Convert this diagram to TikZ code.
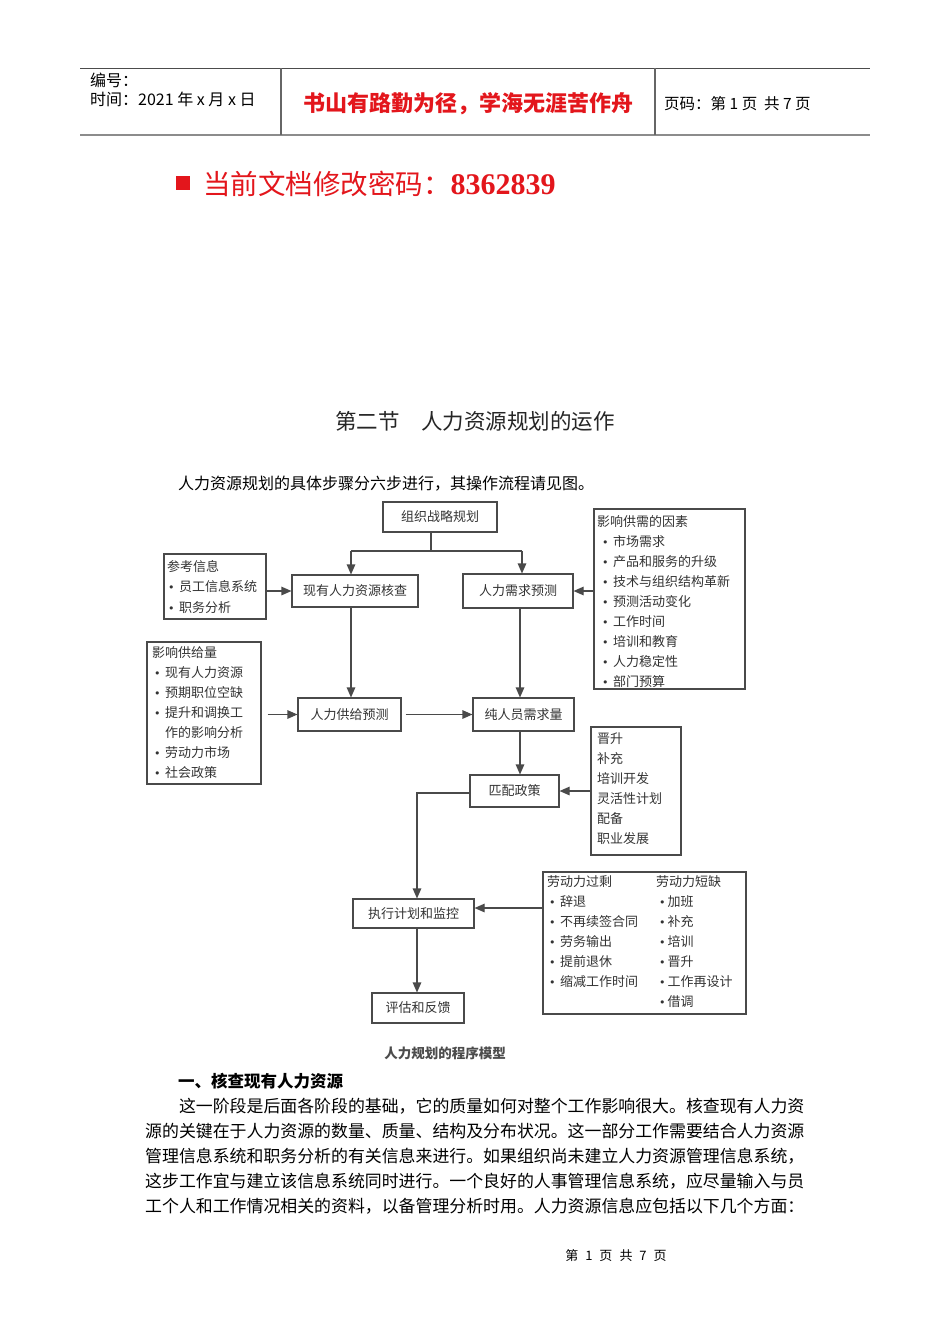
\documentclass[tikz,border=0pt]{standalone}
\usepackage{fontspec}
\setmainfont{Noto Sans CJK SC}
\newfontfamily\tnr{Liberation Serif}
\newfontfamily\dv{DejaVu Sans}
\usetikzlibrary{arrows.meta}
\definecolor{lnc}{HTML}{4A4A4A}
\definecolor{txc}{HTML}{333333}
\definecolor{hdred}{HTML}{E3161C}
\newcommand\fs[1]{\fontsize{#1}{#1}\selectfont}
\newcommand\bul{{\dv\fs{11}•}\hspace{4.5pt}}
\begin{document}
\begin{tikzpicture}[x=1pt,y=-1pt,
  mbox/.style={draw=lnc, line width=1.1pt, inner sep=0pt, text=txc, font=\fs{13}},
  lst/.style={inner sep=0pt, anchor=base west, text=txc, font=\fs{13}},
  arr/.style={draw=lnc, line width=1.1pt, -{Triangle[length=10pt,width=8.5pt]}},
  ln/.style={draw=lnc, line width=1.1pt},
  txt/.style={inner sep=0pt, anchor=base west, font=\fs{16}}]
\fill[white] (0,0) rectangle (950,1344);
\useasboundingbox (0,0) rectangle (950,1344);
% header
\draw[line width=1pt, black!70] (80,68) -- (870,68);
\draw[line width=2pt, black!45] (80,135) -- (870,135);
\draw[line width=1.3pt, black!60] (281,68) -- (281,135);
\draw[line width=1.3pt, black!60] (655,68) -- (655,135);
\node[txt] (bh) at (90,86) {编号：};
\node[txt] (sj) at (90,105) {时间：2021 年 x 月 x 日};
\node[inner sep=0pt, text=hdred, font=\fs{22}\bfseries] (motto) at (468,104) {书山有路勤为径，学海无涯苦作舟};
\node[txt, font=\fs{15.5}] (ym) at (664,109) {页码：第 1 页\ \ 共 7 页};
% password
\node[fill=hdred, minimum size=14pt, inner sep=0pt] (sq) at (183,183) {};
\node[inner sep=0pt, anchor=base west, text=hdred, font=\fs{27.5}] (pw) at (203,194) {当前文档修改密码：{\tnr\bfseries\fs{30}8362839}};
% title
\node[inner sep=0pt, font=\fs{21.5}, text=black!85] (ttl) at (475,421) {第二节　人力资源规划的运作};
\node[txt] (intro) at (178,489) {人力资源规划的具体步骤分六步进行，其操作流程请见图。};
% diagram boxes
\node[mbox, minimum width=114pt, minimum height=30pt] (zz) at (440,517) {组织战略规划};
\node[mbox, minimum width=126pt, minimum height=32pt] (hc) at (355,591) {现有人力资源核查};
\node[mbox, minimum width=102pt, minimum height=65pt] (ck) at (215,586.5) {};
\node[mbox, minimum width=110pt, minimum height=34pt] (xq) at (518,591) {人力需求预测};
\node[mbox, minimum width=151pt, minimum height=180pt] (fx) at (669.5,599) {};
\node[mbox, minimum width=114pt, minimum height=142pt] (gl) at (204,713) {};
\node[mbox, minimum width=103pt, minimum height=33pt] (gy) at (349.5,714.5) {人力供给预测};
\node[mbox, minimum width=101pt, minimum height=33pt] (cr) at (523.5,714.5) {纯人员需求量};
\node[mbox, minimum width=89pt, minimum height=32pt] (pp) at (514.5,791) {匹配政策};
\node[mbox, minimum width=90pt, minimum height=128pt] (js) at (636,791) {};
\node[mbox, minimum width=121pt, minimum height=29pt] (zx) at (413.5,913.5) {执行计划和监控};
\node[mbox, minimum width=203pt, minimum height=142pt] (ld) at (644.5,943) {};
\node[mbox, minimum width=92pt, minimum height=30pt] (pg) at (418,1008) {评估和反馈};
% list texts
\node[lst] (ck0) at (167,571) {参考信息};
\node[lst] (ck1) at (168,591) {\bul 员工信息系统};
\node[lst] (ck2) at (168,612) {\bul 职务分析};
\node[lst] (fx0) at (597,526) {影响供需的因素};
\foreach \t [count=\i] in {市场需求,产品和服务的升级,技术与组织结构革新,预测活动变化,工作时间,培训和教育,人力稳定性,部门预算}
  \node[lst] (fx\i) at (602,526+20.1*\i) {\bul\t};
\node[lst] (gl0) at (152,657) {影响供给量};
\node[lst] (gl1) at (154,677) {\bul 现有人力资源};
\node[lst] (gl2) at (154,697) {\bul 预期职位空缺};
\node[lst] (gl3) at (154,717) {\bul 提升和调换工};
\node[lst] (gl4) at (165,737) {作的影响分析};
\node[lst] (gl5) at (154,757) {\bul 劳动力市场};
\node[lst] (gl6) at (154,777) {\bul 社会政策};
\foreach \t [count=\i] in {晋升,补充,培训开发,灵活性计划,配备,职业发展}
  \node[lst] (js\i) at (597,723+20*\i) {\t};
\node[lst] (ldA) at (547,886) {劳动力过剩};
\foreach \t [count=\i] in {辞退,不再续签合同,劳务输出,提前退休,缩减工作时间}
  \node[lst] (la\i) at (549,886+20*\i) {\bul\t};
\node[lst] (ldB) at (656,886) {劳动力短缺};
\foreach \t [count=\i] in {加班,补充,培训,晋升,工作再设计,借调}
  \node[lst] (lb\i) at (659,886+20*\i) {{\dv\fs{11}•}\hspace{2pt}\t};
% connectors
\coordinate (j) at (431,551);
\coordinate (bl) at (351,551);
\coordinate (br) at (522,551);
\coordinate (cx) at (520,0);
\coordinate (cd) at (417,793);
\draw[ln] (j |- zz.south) -- (j);
\draw[ln] (bl) -- (br);
\draw[arr] (bl) -- (bl |- hc.north);
\draw[arr] (br) -- (br |- xq.north);
\draw[arr] (ck.east |- hc.west) -- (hc.west);
\draw[arr] (fx.west |- xq.east) -- (xq.east);
\draw[arr] (bl |- hc.south) -- (bl |- gy.north);
\draw[arr] (cx |- xq.south) -- (cx |- cr.north);
\draw[arr] ([xshift=6pt]gl.east |- gy.west) -- (gy.west);
\draw[arr] ([xshift=4pt]gy.east) -- (cr.west);
\draw[arr] (cx |- cr.south) -- (cx |- pp.north);
\draw[arr] (js.west |- pp.east) -- (pp.east);
\draw[arr] (pp.west |- cd) -- (cd) -- (cd |- zx.north);
\draw[arr] (ld.west |- 0,908) -- (zx.east |- 0,908);
\draw[arr] (cd |- zx.south) -- (cd |- pg.north);
% caption and text
\node[inner sep=0pt, font=\fs{13.5}\bfseries, text=black!70] (cap) at (445,1053) {人力规划的程序模型};
\node[txt, font=\fs{16.5}\bfseries] (h1) at (178,1087) {一、核查现有人力资源};
\node[txt, font=\fs{16.9}] (p1) at (178.8,1112.4) {这一阶段是后面各阶段的基础，它的质量如何对整个工作影响很大。核查现有人力资};
\node[txt, font=\fs{16.9}] (p2) at (145,1137.4) {源的关键在于人力资源的数量、质量、结构及分布状况。这一部分工作需要结合人力资源};
\node[txt, font=\fs{16.9}] (p3) at (145,1162.4) {管理信息系统和职务分析的有关信息来进行。如果组织尚未建立人力资源管理信息系统，};
\node[txt, font=\fs{16.9}] (p4) at (145,1187.4) {这步工作宜与建立该信息系统同时进行。一个良好的人事管理信息系统，应尽量输入与员};
\node[txt, font=\fs{16.9}] (p5) at (145,1212.4) {工个人和工作情况相关的资料，以备管理分析时用。人力资源信息应包括以下几个方面：};
\node[inner sep=0pt, font=\fs{13}] (ft) at (616,1256) {第\hspace{7pt}1\hspace{7pt}页\hspace{7pt}共\hspace{7pt}7\hspace{7pt}页};
\end{tikzpicture}
\end{document}
